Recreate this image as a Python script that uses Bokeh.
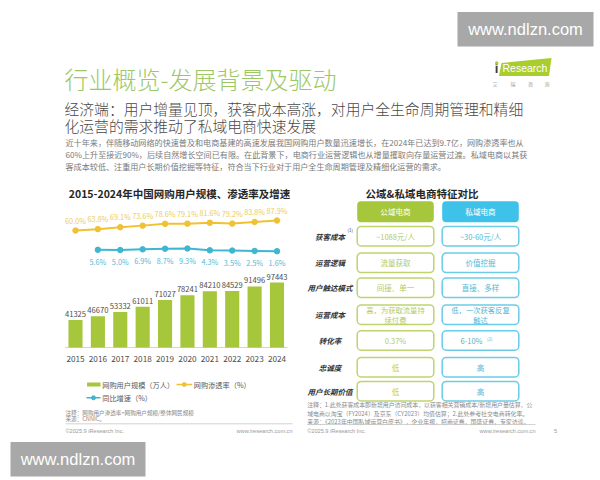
from bokeh.plotting import figure
from bokeh.models import Range1d, ColumnDataSource
from bokeh.core.properties import value
from bokeh.embed import file_html
from bokeh.resources import INLINE

# ---- chart data -------------------------------------------------------------
years = [2015, 2016, 2017, 2018, 2019, 2020, 2021, 2022, 2023, 2024]
users = [41325, 46670, 53332, 61011, 71027, 78241, 84210, 84529, 91496, 97443]   # 万人
penetration = [60.0, 63.8, 69.1, 73.6, 78.6, 79.1, 81.6, 79.2, 83.8, 87.9]       # %
growth_years = [2016, 2017, 2018, 2019, 2020, 2021, 2022, 2023, 2024]
growth = [5.6, 5.0, 6.9, 8.7, 9.3, 4.3, 3.5, 2.5, 1.6]                           # %

# ---- comparison table --------------------------------------------------------
row_labels = ["获客成本", "运营逻辑", "用户触达模式", "运营成本", "转化率", "忠诚度", "用户长期价值"]
public_cells = ["~1088元/人", "流量获取", "间接、单一", "高，为获取流量持|续付费", "0.37%", "低", "低"]
private_cells = ["~30-60元/人", "价值挖掘", "直接、多样", "低，一次获客反复|触达", "6-10%", "高", "高"]
column_heads = ["公域电商", "私域电商"]

title = "行业概览-发展背景及驱动"
subtitle = ["经济端：用户增量见顶，获客成本高涨，对用户全生命周期管理和精细",
            "化运营的需求推动了私域电商快速发展"]
paragraph = ["近十年来，伴随移动网络的快速普及和电商基建的高速发展我国网购用户数量迅速增长，在2024年已达到9.7亿，网购渗透率也从",
             "60%上升至接近90%，后续自然增长空间已有限。在此背景下，电商行业运营逻辑也从增量攫取向存量运营过渡。私域电商以其获",
             "客成本较低、注重用户长期价值挖掘等特征，符合当下行业对于用户全生命周期管理及精细化运营的需求。"]
right_notes = ["注释：1.此处获客成本即新增用户访问成本，以获客相关营销成本/新增用户量估算，公",
               "域电商以淘宝（FY2024）及京东（CY2023）均值估算；2.此处参考社交电商转化率。",
               "来源：《2023年中国私域运营白皮书》，企业年报，招商证券，国盛证券，专家访谈。"]

# ---- palette ----------------------------------------------------------------
GREEN = "#a6c63c"
GOLD = "#f0c232"
TEAL = "#3fb6d0"
CYAN = "#3ec2ea"
CJK = "Noto Sans CJK SC"
CJK_LIGHT = "'Noto Sans CJK SC Light', 'Noto Sans CJK SC DemiLight', 'Noto Sans CJK SC'"

W, H = 600, 480
p = figure(width=W, height=H, x_range=Range1d(0, W), y_range=Range1d(H, 0),
           output_backend="svg", toolbar_location=None, min_border=0,
           x_axis_location=None, y_axis_location=None)
p.grid.visible = False
p.outline_line_color = None
p.background_fill_color = "white"
p.border_fill_color = "white"


def band(px_a, val_a, px_b, val_b, px_lo, px_hi):
    """Range whose values val_a/val_b fall on page pixels px_a/px_b."""
    k = (val_b - val_a) / (px_b - px_a)
    return Range1d(start=val_a + (px_lo - px_a) * k, end=val_a + (px_hi - px_a) * k)


p.extra_x_ranges = {"year": band(75, years[0], 276.5, years[-1], 0, W)}
p.extra_y_ranges = {
    "users": band(347, 0, 282, max(users), H, 0),
    "pen": band(230, 60, 220, 87.9, H, 0),
    "growth": band(251.3, 0, 248.0, 9.3, H, 0),
}


def label(x, y, s, size, color, align="left", style="normal", font=CJK, baseline="middle"):
    p.text(x=[x], y=[y], text=[s], text_font=value(font), text_font_size=value(f"{size}px"),
           text_color=color, text_align=align, text_baseline=baseline, text_font_style=style)


# ---- header -----------------------------------------------------------------
label(64, 78, title, 24, "#9dc866", font=CJK_LIGHT)
label(64, 107.5, subtitle[0], 14.8, "#4a4a4a", font=CJK_LIGHT)
label(64, 124.7, subtitle[1], 14.8, "#4a4a4a", font=CJK_LIGHT)
for i, line in enumerate(paragraph):
    label(65, 142.3 + i * 11.7, line, 8.1, "#7a7a7a")

# iResearch logo
p.patch(x=[498.5, 501, 551, 548.5], y=[75.5, 62.5, 57.5, 75.5], fill_color="#a9cd2c", line_color=None)
label(496, 75, "i", 13, "#3a3a3a", align="center", style="bold", font="Liberation Sans", baseline="bottom")
p.scatter(x=[496.2], y=[62.5], size=3.5, fill_color="#a9cd2c", line_color=None)
label(502, 67.5, "Research", 10.5, "white", font="Liberation Sans")
for cx, ch in zip([494.5, 512.5, 530, 546.5], "艾瑞咨询"):
    label(cx, 82.5, ch, 5, "#9a9a9a", align="center")

# ---- left chart: users / penetration / growth ---------------------------------
label(179, 193, "2015-2024年中国网购用户规模、渗透率及增速", 10.5, "#262626", align="center", style="bold")

src = ColumnDataSource(dict(
    year=years, users=users, ulab=[str(u) for u in users],
    pen=penetration, plab=[f"{v:.1f}%" for v in penetration],
    ylab=[str(y) for y in years],
))
gsrc = ColumnDataSource(dict(year=growth_years, growth=growth, glab=[f"{v:.1f}%" for v in growth]))

p.segment(x0=[years[0] - 0.46], x1=[years[-1] + 0.46], y0=[0], y1=[0],
          x_range_name="year", y_range_name="users", line_color="#d4d4d4", line_width=1)
p.vbar(x="year", top="users", bottom=0, width=0.63, source=src,
       x_range_name="year", y_range_name="users", fill_color=GREEN, line_color=None)
p.text(x="year", y="users", text="ulab", source=src, x_range_name="year", y_range_name="users",
       y_offset=-3, text_align="center", text_baseline="bottom", text_font=value(CJK),
       text_font_size=value("7.6px"), text_color="#4d4d4d")
p.text(x="year", y=0, text="ylab", source=src, x_range_name="year", y_range_name="users",
       y_offset=11, text_align="center", text_baseline="middle", text_font=value(CJK),
       text_font_size=value("8.2px"), text_color="#4d4d4d")

p.line(x="year", y="pen", source=src, x_range_name="year", y_range_name="pen",
       line_color=GOLD, line_width=2)
p.scatter(x="year", y="pen", source=src, x_range_name="year", y_range_name="pen",
          size=5.5, fill_color=GOLD, line_color=GOLD)
p.text(x="year", y="pen", text="plab", source=src, x_range_name="year", y_range_name="pen",
       y_offset=-10, text_align="center", text_baseline="middle", text_font=value(CJK),
       text_font_size=value("7.3px"), text_color="#eccd5c")

p.line(x="year", y="growth", source=gsrc, x_range_name="year", y_range_name="growth",
       line_color=TEAL, line_width=2)
p.scatter(x="year", y="growth", source=gsrc, x_range_name="year", y_range_name="growth",
          size=5.5, fill_color=TEAL, line_color=TEAL)
p.text(x="year", y="growth", text="glab", source=gsrc, x_range_name="year", y_range_name="growth",
       y_offset=12, text_align="center", text_baseline="middle", text_font=value(CJK),
       text_font_size=value("7.3px"), text_color="#52bad5")

# legend keys
p.rect(x=[93.3], y=[384], width=13.5, height=4, fill_color=GREEN, line_color=None)
label(101.7, 384, "网购用户规模（万人）", 7.2, "#595959")
p.line(x=[176, 191.7], y=[384, 384], line_color=GOLD, line_width=1.5)
p.scatter(x=[183.8], y=[384], size=4, fill_color=GOLD, line_color=GOLD)
label(193.3, 384, "网购渗透率（%）", 7.2, "#595959")
p.line(x=[86, 100], y=[397.3, 397.3], line_color=TEAL, line_width=1.5)
p.scatter(x=[93], y=[397.3], size=4, fill_color=TEAL, line_color=TEAL)
label(101.7, 397.3, "同比增速（%）", 7.2, "#595959")

label(65, 412.5, "注释：网购用户渗透率=网购用户规模/整体网民规模", 5.6, "#8a8a8a")
label(65, 418, "来源：CNNIC。", 5.6, "#8a8a8a")
p.line(x=[65, 292], y=[423.3, 423.3], line_color="#c8c8c8", line_width=0.8)
label(65, 430.5, "©2025.9 iResearch Inc.", 5.6, "#9a9a9a", font="Liberation Sans")
label(292, 430.5, "www.iresearch.com.cn", 5.6, "#9a9a9a", align="right", font="Liberation Sans")

# ---- right table: public vs private e-commerce ---------------------------------
label(421.5, 193, "公域&私域电商特征对比", 10.5, "#262626", align="center", style="bold")

col_x = [395, 480]
col_fill = [GREEN, CYAN]
col_edge = ["#bfd46f", "#6ccbe6"]
col_text = ["#b3cb66", "#52b9d6"]
p.rect(x=col_x, y=[211.2, 211.2], width=76.6, height=21, fill_color=col_fill,
       line_color=None, border_radius=4)
for cx, head in zip(col_x, column_heads):
    label(cx, 211.2, head, 7.6, "white", align="center")

row_y = [235.7, 262.3, 287.3, 314.2, 340, 366.7, 390.7]
for ry, name, pub, pri in zip(row_y, row_labels, public_cells, private_cells):
    label(329.5, ry, name, 7.5, "#333333", align="center", style="bold italic")
    for cx, edge, tc, cell in zip(col_x, col_edge, col_text, [pub, pri]):
        p.rect(x=[cx], y=[ry], width=76.6, height=19.5, fill_color="white",
               line_color=edge, line_width=1.5, border_radius=4)
        parts = cell.split("|")
        if len(parts) == 2:
            label(cx, ry - 4.6, parts[0], 7.3, tc, align="center")
            label(cx, ry + 4.8, parts[1], 7.3, tc, align="center")
        elif cell == "6-10%":
            label(cx + 2, ry, cell, 7.5, "#5aaec6", align="right")
            label(cx + 6.5, ry - 1.5, "(2)", 4.5, "#5aaec6")
        else:
            label(cx, ry, cell, 7.5, tc, align="center")
label(347, row_y[0] - 6, "(1)", 4.5, "#333333")

for i, line in enumerate(right_notes):
    label(306.7, 404.3 + i * 8.2, line, 5.9, "#8a8a8a")
p.line(x=[306.7, 535], y=[424, 424], line_color="#c8c8c8", line_width=0.8)
label(306.7, 430.5, "©2025.9 iResearch Inc.", 5.6, "#9a9a9a", font="Liberation Sans")
label(535, 430.5, "www.iresearch.com.cn", 5.6, "#9a9a9a", align="right", font="Liberation Sans")
label(555, 430.5, "5", 5.6, "#9a9a9a", align="center", font="Liberation Sans")

# ---- site stamps ------------------------------------------------------------
for x0, x1, y0, y1 in [(457, 593, 11.5, 46), (10, 145, 441.5, 476)]:
    p.rect(x=[(x0 + x1) / 2], y=[(y0 + y1) / 2], width=x1 - x0, height=y1 - y0,
           fill_color="#a8a8a8", line_color=None)
    label((x0 + x1) / 2, (y0 + y1) / 2, "www.ndlzn.com", 16.5, "white",
          align="center", font="Liberation Sans")

open("out.html", "w").write(file_html(p, INLINE))
